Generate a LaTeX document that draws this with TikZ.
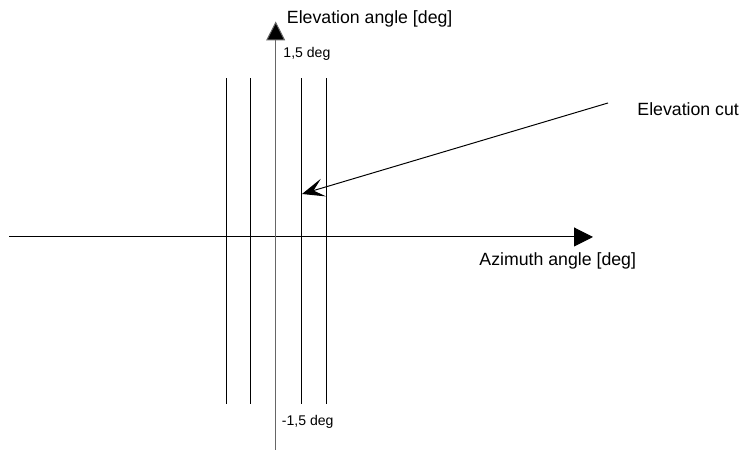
\documentclass[tikz,border=0pt]{standalone}
\usepackage{fontspec}
\setmainfont{Liberation Sans}
\usepackage{tikz}
\usetikzlibrary{arrows.meta}

\begin{document}
\begin{tikzpicture}[axislbl/.style={font=\fontsize{12.6}{14}\selectfont, anchor=west, inner sep=0pt},
  ticklbl/.style={font=\fontsize{10}{12}\selectfont, anchor=west, inner sep=0pt},
  cutline/.style={line width=0.7pt, black}]
\useasboundingbox (0,0) rectangle (18.525,11.3);
% axes
\coordinate (azstart) at (0.225,5.375);
\coordinate (azend) at (14.825,5.375);
\coordinate (elstart) at (6.8925,0.05);
\coordinate (elend) at (6.8925,10.7625);
\draw[line width=0.7pt, -{Triangle[length=4.7mm,width=4.7mm]}] (azstart)--(azend);
\draw[line width=0.7pt, black!60, -{Triangle[length=4.7mm,width=4.7mm,fill=black]}, draw=black!60] (elstart)--(elend);
\node[axislbl] (azlbl) at (11.98,4.78) {Azimuth angle [deg]};
\node[axislbl] (ellbl) at (7.1675,10.83) {Elevation angle [deg]};
% limits
\node[ticklbl] (topdeg) at (7.08,9.95) {1,5 deg};
\node[ticklbl] (botdeg) at (7.04,0.75) {-1,5 deg};
% elevation cuts
\foreach \x [count=\i] in {5.667,6.25,7.543,8.15}{
  \coordinate (cutbot\i) at (\x,1.2);
  \coordinate (cuttop\i) at (\x,9.3575);
  \draw[cutline] (cutbot\i)--(cuttop\i);
}
% pointer to a cut
\node[axislbl] (cutlbl) at (15.93,8.57) {Elevation cut};
\coordinate (cuttail) at (15.2,8.725);
\coordinate (cuttip) at (7.55,6.45);
\draw[line width=0.7pt, -{Stealth[length=5.6mm,width=4.6mm,inset=2.6mm]}] (cuttail)--(cuttip);
\end{tikzpicture}
\end{document}
